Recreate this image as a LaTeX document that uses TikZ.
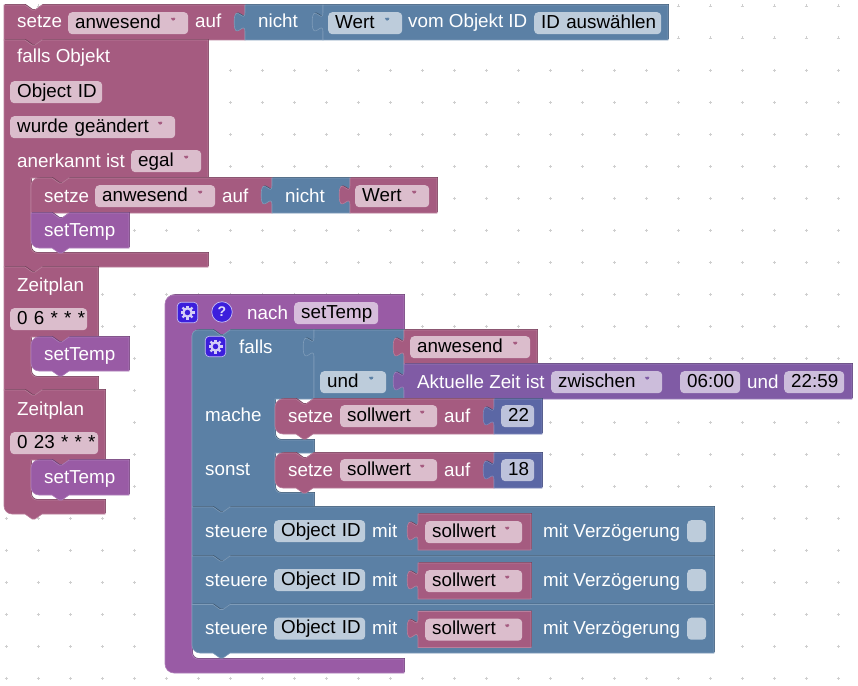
\documentclass[tikz,border=0pt]{standalone}
\usepackage{fontspec}
\setmainfont{Liberation Sans}
\definecolor{rose}{HTML}{A55B80}
\definecolor{rosef}{HTML}{DBBDCC}
\definecolor{logic}{HTML}{5B80A5}
\definecolor{logicf}{HTML}{BDCCDB}
\definecolor{proc}{HTML}{995BA5}
\definecolor{procf}{HTML}{D6BDDB}
\definecolor{timep}{HTML}{805BA5}
\definecolor{timepf}{HTML}{CCBDDB}
\definecolor{mathb}{HTML}{5B67A5}
\definecolor{mathf}{HTML}{BDC2DB}
\definecolor{iconb}{HTML}{3C1FDC}
\definecolor{dotc}{HTML}{CFCFCF}
\tikzset{
  blk/.style={fill=#1, draw=#1!78!white, line width=.6pt,
    preaction={fill=#1!70!black, transform canvas={shift={(.8pt,.8pt)}}}},
  lab/.style={anchor=base west, inner sep=0pt, text=white, font=\fontsize{18.8}{20}\selectfont},
  fld/.style 2 args={anchor=north west, fill=#1, text=black, rounded corners=4pt,
    inner xsep=7pt, inner ysep=2pt, text height=14pt, text depth=4pt, align=left,
    text width=#2pt, font=\fontsize{18.8}{20}\selectfont},
  drop/.style={path picture={\fill[#1] ([shift={(-18.5,-2.5)}]path picture bounding box.east)
    -- ++(7,0) -- ++(-3.5,-5) -- cycle;}},
  iconbox/.style={fill=iconb, draw=white!70!iconb, line width=.7pt, rounded corners=4pt,
    minimum size=20.5pt, inner sep=0pt},
  gearicon/.pic={
    \draw[line width=2.2pt, white!78!iconb] (0,0) circle (4.1);
    \foreach \a in {0,45,...,315}
      \draw[line width=2.4pt, white!78!iconb] (\a:4.5) -- (\a:7);
  }
}
\def\notchD{-- ++(7,5) -- ++(3,0) -- ++(7,-5)}
\def\notchL{-- ++(-7,5) -- ++(-3,0) -- ++(-7,-5)}
% stacked block with notches
\newcommand{\rowblk}[5]{\path[blk=#1] (#2,#3) -- (#2+21,#3) \notchD -- (#4,#3) -- (#4,#5)
  -- (#2+38,#5) \notchL -- (#2,#5) -- cycle;}
% same with round corners on the left
\newcommand{\stmtblk}[5]{\path[blk=#1] (#2+10,#3) -- (#2+21,#3) \notchD -- (#4,#3) -- (#4,#5)
  -- (#2+38,#5) \notchL [rounded corners=8pt] -- (#2,#5) -- (#2,#3) [sharp corners] -- cycle;}
% value block with its tab on the left
\newcommand{\valblk}[5]{\path[blk=#1] (#2,#3) -- ++(0,7)
  .. controls +(0,13.5) and +(0,-20.9) .. ++(-10.8,10.1)
  .. controls +(0,20.9) and +(0,-13.5) .. ++(10.8,10.1)
  -- (#2,#5) -- (#4,#5) -- (#4,#3) -- cycle;}
\begin{document}
\begin{tikzpicture}[x=1pt, y=-1pt]
  \useasboundingbox (0,0) rectangle (858,685);
  % dots of the workspace
  \foreach \i in {0,...,26}
    \foreach \j in {0,...,21}
      \draw[dotc, line width=.8pt] (6+32*\i-1.5,6+32*\j) -- ++(3,0) (6+32*\i,6+32*\j-1.5) -- ++(0,3);

  % top row
  \rowblk{rose}{4}{5}{245}{40}
  \valblk{logic}{245}{5}{323}{40}
  \valblk{logic}{323}{5}{668}{40}
  \node[lab] (setzeTop) at (17,28) {setze};
  \node[fld={rosef}{106}, drop=rose] (anwTop) at (68,12) {anwesend};
  \node[lab] (aufTop) at (195,28) {auf};
  \node[lab] (nichtTop) at (258,28) {nicht};
  \node[fld={logicf}{60}, drop=logic] (wertTop) at (328,12) {Wert};
  \node[lab] (vomTop) at (408,28) {vom Objekt ID};
  \node[fld={logicf}{113}] (idTop) at (534,12) {\mbox{ID auswählen}};

  % falls Objekt
  \path[blk=rose] (4,40) -- (25,40) \notchD -- (208,40) -- (208,178) -- (69,178) \notchL
    -- (31,178) [rounded corners=6pt] -- (31,253) [sharp corners] -- (208,253) -- (208,267)
    -- (42,267) \notchL -- (4,267) -- cycle;
  \node[lab] (fallsObj) at (17,63) {falls Objekt};
  \node[fld={rosef}{78}] (objId) at (10,81) {\mbox{Object ID}};
  \node[fld={rosef}{151}, drop=rose] (geaendert) at (10,116) {\mbox{wurde geändert}};
  \node[lab] (anerkannt) at (17,167) {anerkannt ist};
  \node[fld={rosef}{56}, drop=rose] (egal) at (131,150) {egal};
  \path[blk=rose] (41,178) -- (52,178) \notchD -- (272,178) -- (272,213) -- (31,213)
    [rounded corners=8pt] -- (31,178) [sharp corners] -- cycle;
  \valblk{logic}{272}{178}{350}{213}
  \valblk{rose}{350}{178}{437}{213}
  \node[lab] (setzeIn) at (44,202) {setze};
  \node[fld={rosef}{106}, drop=rose] (anwIn) at (95,185) {anwesend};
  \node[lab] (aufIn) at (222,202) {auf};
  \node[lab] (nichtIn) at (285,202) {nicht};
  \node[fld={rosef}{60}, drop=rose] (wertIn) at (355,185) {Wert};
  \path[blk=proc] (31,213) -- (52,213) \notchD -- (129,213) -- (129,248) -- (69,248) \notchL
    [rounded corners=8pt] -- (31,248) [sharp corners] -- cycle;
  \node[lab] (setTempA) at (44,236) {setTemp};

  % Zeitplan 1
  \path[blk=rose] (4,267) -- (25,267) \notchD -- (98,267) -- (98,337) -- (69,337) \notchL
    -- (31,337) [rounded corners=6pt] -- (31,377) [sharp corners] -- (98,377) -- (98,390)
    -- (42,390) \notchL -- (4,390) -- cycle;
  \node[lab] (planA) at (17,291) {Zeitplan};
  \node[fld={rosef}{63}] (cronA) at (10,308) {\mbox{0 6 * * *}};
  \stmtblk{proc}{31}{337}{129}{371}
  \node[lab] (setTempB) at (44,360) {setTemp};

  % Zeitplan 2
  \path[blk=rose] (4,390) -- (25,390) \notchD -- (105,390) -- (105,460) -- (69,460) \notchL
    -- (31,460) [rounded corners=6pt] -- (31,500) [sharp corners] -- (105,500) -- (105,514)
    -- (42,514) \notchL [rounded corners=8pt] -- (4,514) [sharp corners] -- cycle;
  \node[lab] (planB) at (17,415) {Zeitplan};
  \node[fld={rosef}{74}] (cronB) at (10,432) {\mbox{0 23 * * *}};
  \stmtblk{proc}{31}{460}{129}{495}
  \node[lab] (setTempC) at (44,483) {setTemp};

  % nach setTemp
  \path[blk=proc] (404,673) [rounded corners=9pt] -- (165,673) -- (165,295) [sharp corners]
    -- (404,295) -- (404,330) -- (230,330) \notchL [rounded corners=6pt] -- (192,330)
    -- (192,659) [sharp corners] -- (404,659) -- cycle;
  \node[iconbox] (gearNach) at (187.5,312.5) {};
  \pic at (187.5,312.5) {gearicon};
  \node[circle, fill=iconb, draw=white!70!iconb, line width=.7pt, inner sep=0pt, minimum size=20.5pt,
    text=white!85!iconb, font=\bfseries\fontsize{14}{14}\selectfont] (hilfe) at (222,312) {?};
  \node[lab] (nach) at (247,319) {nach};
  \node[fld={procf}{70}] (setTempN) at (294,302) {setTemp};

  % falls
  \path[blk=logic] (192,400) [rounded corners=6pt] -- (192,330) [sharp corners] -- (213,330) \notchD
    -- (314,330) -- (314,399) -- (275,399) [rounded corners=6pt] -- (275,440) [sharp corners]
    -- (314,440) -- (314,453) -- (275,453) [rounded corners=6pt] -- (275,493) [sharp corners]
    -- (314,493) -- (314,507) -- (230,507) \notchL -- (192,507) -- cycle;
  \valblk{logic}{314}{330}{404}{399}
  \valblk{rose}{404}{330}{537}{364}
  \valblk{timep}{404}{364}{852}{399}
  \node[iconbox] (gearFalls) at (215.5,346.5) {};
  \pic at (215.5,346.5) {gearicon};
  \node[lab] (falls) at (239,353) {falls};
  \node[fld={rosef}{106}, drop=rose] (anwCond) at (410,336) {anwesend};
  \node[fld={logicf}{52}, drop=logic] (und) at (320,371) {und};
  \node[lab] (zeit) at (417,388) {Aktuelle Zeit ist};
  \node[fld={timepf}{97}, drop=timep] (zwischen) at (551,371) {zwischen};
  \node[fld={timepf}{46}] (von) at (680,371) {06:00};
  \node[lab] (undZeit) at (747,388) {und};
  \node[fld={timepf}{46}] (bis) at (784,371) {22:59};
  \node[lab] (mache) at (205,421) {mache};
  \node[lab] (sonst) at (205,475) {sonst};

  \stmtblk{rose}{275}{399}{494}{434}
  \valblk{mathb}{494}{399}{542}{434}
  \node[lab] (setzeDo) at (288,422) {setze};
  \node[fld={rosef}{83}, drop=rose] (sollDo) at (340,405) {sollwert};
  \node[lab] (aufDo) at (444,422) {auf};
  \node[fld={mathf}{19}] (wertDo) at (501,405) {22};

  \stmtblk{rose}{275}{453}{494}{488}
  \valblk{mathb}{494}{453}{542}{488}
  \node[lab] (setzeElse) at (288,476) {setze};
  \node[fld={rosef}{83}, drop=rose] (sollElse) at (340,459) {sollwert};
  \node[lab] (aufElse) at (444,476) {auf};
  \node[fld={mathf}{19}] (wertElse) at (501,459) {18};

  % steuere rows
  \foreach \i/\y/\b in {1/507/556,2/556/604.5,3/604.5/653} {
    \ifnum\i=3
      \path[blk=logic] (192,\y) -- (213,\y) \notchD -- (714,\y) -- (714,\b) -- (230,\b) \notchL
        [rounded corners=8pt] -- (192,\b) [sharp corners] -- cycle;
    \else
      \rowblk{logic}{192}{\y}{714}{\b}
    \fi
    \valblk{rose}{418}{\y+7}{531}{\y+43}
    \node[lab] (steuere\i) at (205,\y+30) {steuere};
    \node[fld={logicf}{77}] (obj\i) at (274,\y+13) {\mbox{Object ID}};
    \node[lab] (mit\i) at (372,\y+30) {mit};
    \node[fld={rosef}{83}, drop=rose] (soll\i) at (425,\y+14) {sollwert};
    \node[lab] (delay\i) at (543,\y+30) {mit Verzögerung};
    \node[fld={logicf}{5}] (check\i) at (687,\y+13) {};
  }
\end{tikzpicture}
\end{document}
